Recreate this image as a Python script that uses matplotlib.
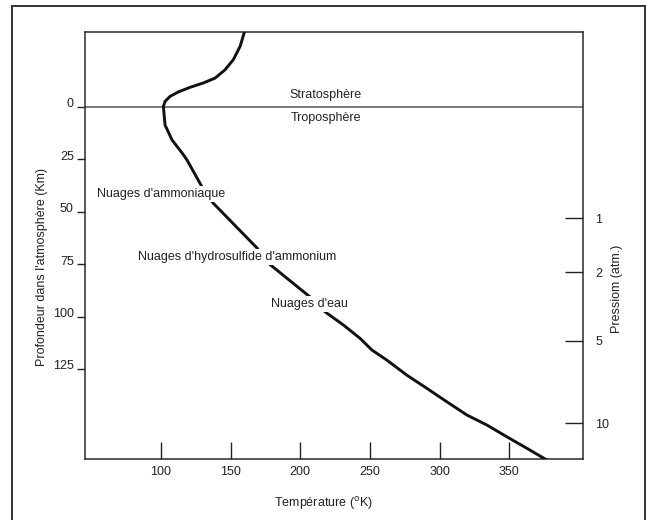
import matplotlib
matplotlib.use("Agg")
import matplotlib.pyplot as plt
from matplotlib.lines import Line2D
import matplotlib.transforms as mtransforms

plt.rcParams['font.family'] = ['Liberation Sans', 'DejaVu Sans']

# --- data ---
temperature = [159.8, 156.8, 151.9, 146.0, 138.8, 130.4, 120.8, 112.4, 106.5, 102.9,
               101.7, 102.2, 102.9, 107.9, 115.1, 118.7, 129.5, 137.4, 169.0, 176.9,
               208.3, 217.8, 231.0, 243.0, 251.4, 262.1, 276.5, 290.9, 305.2, 319.6,
               334.0, 348.3, 362.7, 377.1]
depth = [-35.6, -29.0, -22.6, -17.8, -13.8, -11.5, -9.4, -7.2, -5.1, -2.7,
         -0.3, 3.7, 8.6, 15.7, 21.9, 25.3, 38.2, 45.8, 67.3, 74.4,
         91.3, 97.7, 104.0, 110.4, 115.9, 120.7, 127.9, 134.2, 140.6, 146.9,
         151.7, 157.3, 162.8, 168.4]

depth_ticks = [0, 25, 50, 75, 100, 125]
temp_ticks = [100, 150, 200, 250, 300, 350]
pressure_labels = ['1', '2', '5', '10']
pressure_depth = [53.0, 78.7, 111.6, 150.8]

layer_labels = ['Stratosphère', 'Troposphère']
layer_pos = [(218.2, -5.7), (218.2, 5.2)]
cloud_labels = ["Nuages d'ammoniaque", "Nuages d'hydrosulfide d'ammonium", "Nuages d'eau"]
cloud_pos = [(54.0, 41.5), (83.5, 71.6), (178.8, 94.0)]

# --- figure ---
W, H = 652, 520
fig = plt.figure(figsize=(W / 100, H / 100), dpi=100)
fig.patch.set_facecolor('white')

# outer frame (bottom edge falls outside the picture)
frame_col = '#333333'
x0, x1, yt = 12 / W, 645 / W, 1 - 6 / H
for xs, ys in [([x0, x0], [yt, -0.05]), ([x1, x1], [yt, -0.05]), ([x0, x1], [yt, yt])]:
    fig.add_artist(Line2D(xs, ys, transform=fig.transFigure, color=frame_col, lw=1.4))

ax = fig.add_axes([85 / W, 1 - 459 / H, (583 - 85) / W, (459 - 32) / H])
ax.set_xlim(45.4, 403)
ax.set_ylim(167.9, -35.8)

for s in ax.spines.values():
    s.set_color('#2a2a2a')
    s.set_linewidth(1.1)

ax.plot(temperature, depth, color='#111111', lw=2.1, solid_capstyle='round',
        solid_joinstyle='round', zorder=3)
ax.axhline(0, color='#555555', lw=1.1, zorder=2)

ax.set_yticks(depth_ticks)
ax.set_yticklabels([str(v) for v in depth_ticks])
ax.set_xticks(temp_ticks)
ax.set_xticklabels([str(v) for v in temp_ticks])
ax.tick_params(axis='y', which='both', direction='out', length=6, width=1.0,
               pad=2, labelsize=9, colors='#222222', right=False)
ax.tick_params(axis='x', which='both', direction='in', length=12.5, width=1.0,
               pad=5, labelsize=9, colors='#222222', top=False)
offset = mtransforms.ScaledTranslation(0, 3 / 72, fig.dpi_scale_trans)
for lab in ax.get_yticklabels():
    lab.set_transform(lab.get_transform() + offset)

ax2 = ax.twinx()
ax2.set_ylim(ax.get_ylim())
ax2.set_yticks(pressure_depth)
ax2.set_yticklabels(pressure_labels)
ax2.tick_params(axis='y', direction='in', length=13, width=1.0, pad=9,
                labelsize=9, colors='#222222')
for s in ax2.spines.values():
    s.set_visible(False)

for txt, (tx, ty) in zip(layer_labels, layer_pos):
    ax.text(tx, ty, txt, ha='center', va='center', fontsize=9, color='#222222', zorder=4)
for txt, (tx, ty) in zip(cloud_labels, cloud_pos):
    ax.text(tx, ty, txt, ha='left', va='center', fontsize=9, color='#222222', zorder=4,
            bbox=dict(facecolor='white', edgecolor='none', pad=1.5))

fig.text(42 / W, 1 - 267 / H, "Profondeur dans l'atmosphère (Km)", rotation=90,
         ha='center', va='center', fontsize=9, color='#222222')
fig.text(617 / W, 1 - 289 / H, "Pressiom (atm.)", rotation=90,
         ha='center', va='center', fontsize=9, color='#222222')
fig.text(323 / W, 1 - 503 / H, r"Température ($^{\mathrm{o}}$K)",
         ha='center', va='center', fontsize=9, color='#222222')

fig.savefig('out.png', dpi=100, facecolor='white')
